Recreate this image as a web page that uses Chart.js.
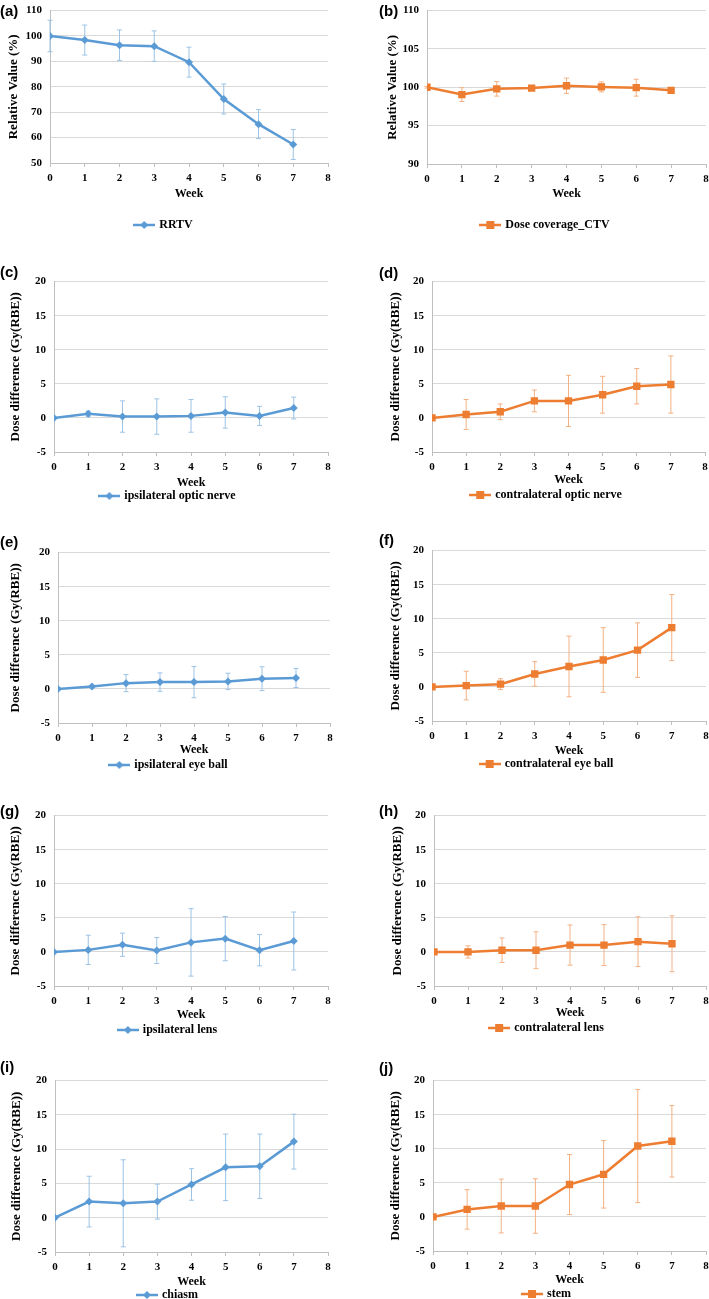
<!DOCTYPE html>
<html>
<head>
<meta charset="utf-8">
<script src="https://cdn.jsdelivr.net/npm/chart.js@4.4.1/dist/chart.umd.min.js"></script>
<style>
  html, body { margin: 0; padding: 0; background: #fff; }
  #page { position: relative; width: 709px; height: 1299px; overflow: hidden; background: #fff; }
  #page canvas { position: absolute; }
  .tag { position: absolute; font: bold 15px 'Liberation Sans', Arial, sans-serif; line-height: 1; color: #000; }
</style>
</head>
<body>
<div id="page"></div>
<script>
/* ─── Data ───────────────────────────────────────────────────────────────── */
const WEEKS = [0, 1, 2, 3, 4, 5, 6, 7];

const RRTV            = [100, 98.4, 96.4, 96.0, 89.7, 75.2, 65.3, 57.3];
const RRTV_SD         = [6.2, 5.9, 6.0, 6.0, 5.9, 5.9, 5.7, 5.9];
const CTV_COVERAGE    = [100.0, 99.05, 99.8, 99.9, 100.2, 100.05, 99.95, 99.6];
const CTV_COVERAGE_SD = [0.1, 0.9, 0.95, 0.2, 1.0, 0.65, 1.1, 0.3];
const IPSI_NERVE      = [0, 0.6, 0.2, 0.2, 0.3, 0.8, 0.3, 1.45];
const IPSI_NERVE_SD   = [0, 0.4, 2.3, 2.6, 2.4, 2.3, 1.4, 1.6];
const CONTRA_NERVE    = [0, 0.5, 0.9, 2.5, 2.5, 3.4, 4.65, 4.9];
const CONTRA_NERVE_SD = [0, 2.2, 1.15, 1.6, 3.75, 2.7, 2.6, 4.2];
const IPSI_EYE        = [0, 0.35, 0.85, 1.0, 1.0, 1.1, 1.5, 1.6];
const IPSI_EYE_SD     = [0, 0.2, 1.25, 1.35, 2.3, 1.2, 1.75, 1.4];
const CONTRA_EYE      = [0, 0.2, 0.4, 1.9, 3.0, 3.95, 5.4, 8.7];
const CONTRA_EYE_SD   = [0, 2.1, 0.8, 1.8, 4.45, 4.75, 4.0, 4.85];
const IPSI_LENS       = [0, 0.3, 1.05, 0.2, 1.4, 1.95, 0.25, 1.6];
const IPSI_LENS_SD    = [0, 2.15, 1.7, 1.9, 4.95, 3.25, 2.3, 4.25];
const CONTRA_LENS     = [0, 0, 0.25, 0.25, 1.0, 1.0, 1.5, 1.2];
const CONTRA_LENS_SD  = [0, 0.9, 1.8, 2.7, 2.95, 3.0, 3.65, 4.1];
const CHIASM          = [0, 2.35, 2.1, 2.35, 4.85, 7.35, 7.5, 11.1];
const CHIASM_SD       = [0, 3.7, 6.35, 2.55, 2.3, 4.85, 4.7, 4.0];
const STEM            = [0, 1.1, 1.6, 1.6, 4.75, 6.25, 10.4, 11.1];
const STEM_SD         = [0, 2.9, 3.95, 4.0, 4.4, 4.95, 8.3, 5.25];

const REL_TICKS  = { min: 50, max: 110, step: 10 };
const CTV_TICKS  = { min: 90, max: 110, step: 5 };
const DOSE_TICKS = { min: -5, max: 20, step: 5 };
const X_TICKS    = { min: 0, max: 8, step: 1 };

/* ─── Styles ─────────────────────────────────────────────────────────────── */
const BLUE = '#5b9bd5', BLUE_ERR = '#9dc3e6';
const ORANGE = '#ed7d31', ORANGE_ERR = '#f4b183';
const GRID = '#d9d9d9', AXIS = '#bfbfbf';
const SERIF = "'Liberation Serif', 'Times New Roman', serif";

Chart.defaults.color = '#000';
Chart.defaults.font.family = SERIF;
Chart.defaults.font.weight = 'bold';

/* ─── Error bars drawn through the chart's own scales ────────────────────── */
const errorBars = {
  id: 'errorBars',
  beforeDatasetsDraw(chart) {
    const { ctx, scales: { x, y } } = chart;
    chart.data.datasets.forEach(ds => {
      if (!ds.sd) { return; }
      ctx.save();
      ctx.strokeStyle = ds.errColor;
      ctx.lineWidth = 1;
      ds.data.forEach((p, i) => {
        const e = ds.sd[i];
        if (!e) { return; }
        const px = x.getPixelForValue(p.x);
        const top = y.getPixelForValue(p.y + e);
        const bot = y.getPixelForValue(p.y - e);
        ctx.beginPath();
        ctx.moveTo(px, top); ctx.lineTo(px, bot);
        ctx.moveTo(px - 2.5, top); ctx.lineTo(px + 2.5, top);
        ctx.moveTo(px - 2.5, bot); ctx.lineTo(px + 2.5, bot);
        ctx.stroke();
      });
      ctx.restore();
    });
  },
};

function legendIcon(color, shape) {
  const c = document.createElement('canvas');
  c.width = 22; c.height = 10;
  const g = c.getContext('2d');
  g.strokeStyle = color; g.lineWidth = 2.5;
  g.beginPath(); g.moveTo(0, 5); g.lineTo(22, 5); g.stroke();
  g.fillStyle = color;
  if (shape === 'rect') { g.fillRect(7, 1, 8, 8); }
  else { g.beginPath(); g.moveTo(11, 1); g.lineTo(15, 5); g.lineTo(11, 9); g.lineTo(7, 5); g.closePath(); g.fill(); }
  return c;
}

/* ─── Panels ─────────────────────────────────────────────────────────────── */
const page = document.getElementById('page');

const panels = [
  { tag: '(a)', tx: 0,   ty: 2.5,  label: 'RRTV', vals: RRTV, sd: RRTV_SD, blue: true, yt: REL_TICKS, ytitle: 'Relative Value (%)',
    left: 0,   plotLeft: 50,  plotRight: 328, plotTop: 6,    plotBottom: 163,  weekOff: 31, legendOff: 62, titleX: 14 },
  { tag: '(b)', tx: 379, ty: 2.5,  label: 'Dose coverage_CTV', vals: CTV_COVERAGE, sd: CTV_COVERAGE_SD, blue: false, yt: CTV_TICKS, ytitle: 'Relative Value (%)',
    left: 385, plotLeft: 427, plotRight: 706, plotTop: 6,    plotBottom: 164,  weekOff: 30, legendOff: 61, titleX: 393 },
  { tag: '(c)', tx: 0,   ty: 264,  label: 'ipsilateral optic nerve', vals: IPSI_NERVE, sd: IPSI_NERVE_SD, blue: true, yt: DOSE_TICKS, ytitle: 'Dose difference (Gy(RBE))',
    left: 8,   plotLeft: 54,  plotRight: 328, plotTop: 277,  plotBottom: 452,  weekOff: 31, legendOff: 43, titleX: 16 },
  { tag: '(d)', tx: 379, ty: 265,  label: 'contralateral optic nerve', vals: CONTRA_NERVE, sd: CONTRA_NERVE_SD, blue: false, yt: DOSE_TICKS, ytitle: 'Dose difference (Gy(RBE))',
    left: 388, plotLeft: 432, plotRight: 705, plotTop: 277,  plotBottom: 452,  weekOff: 28, legendOff: 43, titleX: 396 },
  { tag: '(e)', tx: 0,   ty: 534,  label: 'ipsilateral eye ball', vals: IPSI_EYE, sd: IPSI_EYE_SD, blue: true, yt: DOSE_TICKS, ytitle: 'Dose difference (Gy(RBE))',
    left: 8,   plotLeft: 58,  plotRight: 330, plotTop: 548,  plotBottom: 723,  weekOff: 27, legendOff: 42, titleX: 16 },
  { tag: '(f)', tx: 379, ty: 532,  label: 'contralateral eye ball', vals: CONTRA_EYE, sd: CONTRA_EYE_SD, blue: false, yt: DOSE_TICKS, ytitle: 'Dose difference (Gy(RBE))',
    left: 388, plotLeft: 432, plotRight: 706, plotTop: 546,  plotBottom: 721,  weekOff: 30, legendOff: 43, titleX: 396 },
  { tag: '(g)', tx: 0,   ty: 803,  label: 'ipsilateral lens', vals: IPSI_LENS, sd: IPSI_LENS_SD, blue: true, yt: DOSE_TICKS, ytitle: 'Dose difference (Gy(RBE))',
    left: 8,   plotLeft: 54,  plotRight: 328, plotTop: 811,  plotBottom: 986,  weekOff: 29, legendOff: 44, titleX: 16 },
  { tag: '(h)', tx: 379, ty: 803,  label: 'contralateral lens', vals: CONTRA_LENS, sd: CONTRA_LENS_SD, blue: false, yt: DOSE_TICKS, ytitle: 'Dose difference (Gy(RBE))',
    left: 388, plotLeft: 434, plotRight: 706, plotTop: 811,  plotBottom: 986,  weekOff: 27, legendOff: 42, titleX: 398 },
  { tag: '(i)', tx: 0,   ty: 1059, label: 'chiasm', vals: CHIASM, sd: CHIASM_SD, blue: true, yt: DOSE_TICKS, ytitle: 'Dose difference (Gy(RBE))',
    left: 8,   plotLeft: 55,  plotRight: 328, plotTop: 1076, plotBottom: 1252, weekOff: 30, legendOff: 43, titleX: 16.5 },
  { tag: '(j)', tx: 379, ty: 1060, label: 'stem', vals: STEM, sd: STEM_SD, blue: false, yt: DOSE_TICKS, ytitle: 'Dose difference (Gy(RBE))',
    left: 388, plotLeft: 433, plotRight: 706, plotTop: 1076, plotBottom: 1251, weekOff: 29, legendOff: 43, titleX: 396 },
];

function makePanel(p) {
  const padTop = 10;
  const xH = p.weekOff + 7;
  const lp = Math.max(0, p.legendOff - xH - 6);
  const legendH = 12 + lp + 10;
  const w = p.plotRight + 10 - p.left;
  const h = padTop + (p.plotBottom - p.plotTop) + xH + legendH;
  const yW = p.plotLeft - p.left;
  const titlePad = Math.max(0, p.titleX - p.left - 7.8);

  const cv = document.createElement('canvas');
  cv.width = w; cv.height = h;
  cv.style.left = p.left + 'px'; cv.style.top = (p.plotTop - padTop) + 'px';
  cv.style.width = w + 'px'; cv.style.height = h + 'px';
  page.appendChild(cv);

  const tag = document.createElement('div');
  tag.className = 'tag'; tag.textContent = p.tag;
  tag.style.left = p.tx + 'px'; tag.style.top = p.ty + 'px';
  page.appendChild(tag);

  const color = p.blue ? BLUE : ORANGE;
  new Chart(cv, {
    type: 'line',
    data: { datasets: [{
      label: p.label,
      data: WEEKS.map((wk, i) => ({ x: wk, y: p.vals[i] })),
      sd: p.sd, errColor: p.blue ? BLUE_ERR : ORANGE_ERR,
      borderColor: color, backgroundColor: color, borderWidth: 2.5, tension: 0,
      pointStyle: p.blue ? 'rectRot' : 'rect', pointRadius: p.blue ? 4 : 5.2,
      pointBackgroundColor: color, pointBorderColor: color, pointBorderWidth: 0,
    }]},
    options: {
      responsive: false, animation: false, events: [],
      layout: { padding: { top: padTop, right: 10, left: 0, bottom: 0 } },
      plugins: {
        tooltip: { enabled: false },
        legend: {
          position: 'bottom',
          labels: {
            usePointStyle: true, pointStyle: legendIcon(color, p.blue ? 'diamond' : 'rect'),
            pointStyleWidth: 18, padding: lp, color: '#000',
            font: { family: SERIF, size: 12, weight: 'bold' },
          },
        },
      },
      scales: {
        x: {
          type: 'linear', min: X_TICKS.min, max: X_TICKS.max,
          ticks: { stepSize: X_TICKS.step, padding: 5, font: { size: 11, weight: 'bold' }, maxRotation: 0 },
          grid: { drawOnChartArea: false, drawTicks: true, tickLength: 4, color: AXIS },
          border: { color: AXIS },
          title: { display: true, text: 'Week', padding: { top: 0, bottom: 0 }, font: { size: 12, weight: 'bold' } },
          afterFit: s => { s.height = xH; },
        },
        y: {
          min: p.yt.min, max: p.yt.max,
          ticks: { stepSize: p.yt.step, padding: 8, font: { size: 11, weight: 'bold' } },
          grid: { color: GRID, drawTicks: false },
          border: { color: AXIS },
          title: { display: true, text: p.ytitle, padding: { top: titlePad, bottom: 0 }, font: { size: 13, weight: 'bold' } },
          afterFit: s => { s.width = yW; },
        },
      },
    },
    plugins: [errorBars],
  });
}

panels.forEach(makePanel);
</script>
</body>
</html>
